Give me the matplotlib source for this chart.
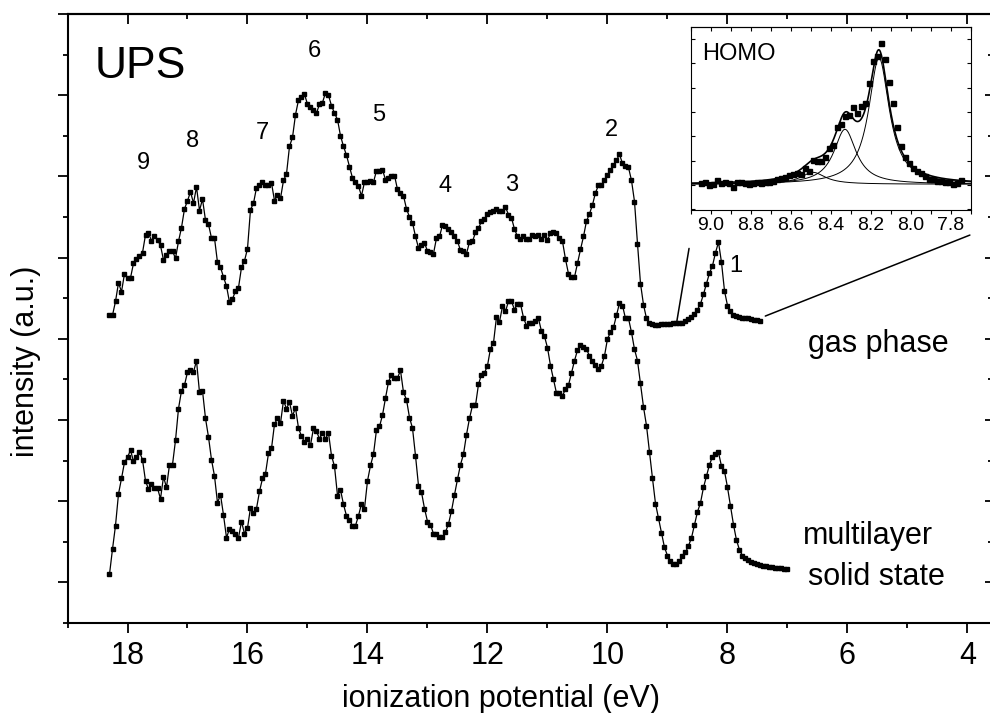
import numpy as np
import matplotlib.pyplot as plt
from matplotlib.patches import ConnectionPatch
from matplotlib.ticker import MultipleLocator

plt.rcParams['font.family'] = ['Liberation Sans', 'DejaVu Sans']

##Spectra (intensity in a.u., energy grid of the measurement)##
step = 0.05
gas_start = 18.30
solid_start = 18.30

gas = [3.29, 3.29, 3.46, 3.69, 3.58, 3.80, 3.75, 3.75, 3.93, 3.98,
       4.02, 4.06, 4.28, 4.30, 4.21, 4.26, 4.22, 4.15, 3.97, 4.03,
       4.08, 4.08, 3.99, 4.20, 4.37, 4.60, 4.70, 4.81, 4.67, 4.87,
       4.58, 4.72, 4.46, 4.41, 4.24, 4.24, 3.94, 3.88, 3.76, 3.65,
       3.45, 3.49, 3.59, 3.63, 3.88, 3.96, 4.11, 4.59, 4.67, 4.86,
       4.89, 4.93, 4.89, 4.90, 4.92, 4.70, 4.77, 4.73, 4.95, 5.03,
       5.37, 5.48, 5.76,
       5.94, 5.98, 6.01, 5.89, 5.86, 5.82, 5.78, 5.89, 5.91, 6.03,
       6.00, 5.87, 5.78, 5.70, 5.50, 5.37, 5.26, 5.12, 4.98, 4.93,
       4.88, 4.76, 4.93, 4.93, 4.94, 4.93, 5.07, 5.07, 5.08, 4.96,
       4.98, 5.00, 5.01, 4.84, 4.80, 4.76, 4.60, 4.50, 4.43, 4.26,
       4.12, 4.16, 4.18, 4.08, 4.07, 4.05, 4.24, 4.26, 4.40, 4.39,
       4.35, 4.31, 4.26, 4.20, 4.09, 4.08, 4.05, 4.19, 4.20, 4.31,
       4.36, 4.45, 4.48, 4.54,
       4.56, 4.57, 4.60, 4.58, 4.57, 4.62, 4.53, 4.49, 4.35, 4.26,
       4.23, 4.26, 4.23, 4.23, 4.28, 4.26, 4.28, 4.23, 4.28, 4.22,
       4.30, 4.32, 4.30, 4.24, 4.20, 3.98, 3.80, 3.76, 3.76, 3.93,
       4.10, 4.26, 4.45, 4.54, 4.65, 4.80, 4.89, 4.90, 4.96, 5.02,
       5.08, 5.14, 5.20, 5.27, 5.16, 5.13, 5.11, 4.95, 4.69, 4.17,
       3.68, 3.42, 3.25, 3.20, 3.18, 3.17, 3.17, 3.18, 3.18, 3.18,
       3.18, 3.19, 3.19, 3.19, 3.20, 3.22, 3.24, 3.27, 3.31, 3.36,
       3.43, 3.55, 3.68, 3.81, 3.90, 4.06, 4.19, 3.94, 3.59, 3.41,
       3.34, 3.29, 3.28, 3.27, 3.26, 3.25, 3.25, 3.24, 3.23, 3.23,
       3.22]

solid = [0.10, 0.41, 0.70, 1.09, 1.28, 1.48, 1.54, 1.63, 1.49, 1.54,
         1.61, 1.51, 1.25, 1.15, 1.21, 1.16, 1.16, 1.03, 1.30, 1.17,
         1.45, 1.45, 1.75, 2.14, 2.36, 2.43, 2.59, 2.62, 2.59, 2.73,
         2.34, 2.36, 2.02, 1.79, 1.51, 1.31, 0.98, 1.08, 0.83, 0.55,
         0.66, 0.63, 0.60, 0.55, 0.75, 0.60, 0.67, 0.92, 0.86, 0.91,
         1.12, 1.28, 1.34, 1.59, 1.65, 1.95, 2.02, 1.96, 2.24, 2.14,
         2.22, 2.05,
         2.15, 1.90, 1.80, 1.73, 1.76, 1.69, 1.90, 1.86, 1.77, 1.84,
         1.77, 1.84, 1.56, 1.43, 1.07, 1.14, 0.96, 0.82, 0.77, 0.70,
         0.70, 0.82, 0.97, 0.91, 1.25, 1.44, 1.58, 1.88, 1.92, 2.06,
         2.27, 2.47, 2.56, 2.52, 2.52, 2.61, 2.34, 2.25, 2.03, 1.90,
         1.56, 1.19, 1.11, 0.91, 0.75, 0.71, 0.60, 0.59, 0.56, 0.56,
         0.62, 0.72, 0.88, 1.08, 1.27, 1.45, 1.58, 1.82, 2.02, 2.18,
         2.18, 2.44, 2.56, 2.58, 2.67,
         2.88, 2.95, 3.27, 3.21, 3.40, 3.34, 3.46, 3.46, 3.36, 3.43,
         3.43, 3.26, 3.16, 3.19, 3.19, 3.22, 3.25, 3.09, 3.03, 2.89,
         2.67, 2.50, 2.33, 2.33, 2.30, 2.38, 2.43, 2.58, 2.73, 2.86,
         2.92, 2.90, 2.87, 2.79, 2.73, 2.68, 2.63, 2.67, 2.79, 3.00,
         3.08, 3.14, 3.29, 3.44, 3.41, 3.25, 3.25, 3.08, 2.87, 2.73,
         2.45, 2.16, 1.93, 1.60, 1.28, 0.97, 0.79, 0.61, 0.43, 0.33,
         0.26, 0.23, 0.23, 0.26, 0.32, 0.37, 0.45, 0.55, 0.71, 0.87,
         0.98, 1.17, 1.31, 1.45, 1.55, 1.58, 1.60, 1.43, 1.37, 1.17,
         0.94, 0.71, 0.52, 0.40, 0.33, 0.30, 0.27, 0.25, 0.24, 0.23,
         0.21, 0.20, 0.20, 0.19, 0.19, 0.18, 0.18, 0.18, 0.17, 0.17]

##HOMO inset (gas phase, fine scan) and fitted peaks##
homo_start = 9.05
homo_step = 0.02
homo = [0.10, 0.12, -0.01, 0.04, 0.21, 0.10, 0.14, 0.10, -0.10, 0.11,
        0.12, 0.10, 0.03, 0.08, 0.12, 0.08, 0.14, 0.12, 0.16, 0.25,
        0.27, 0.34, 0.41, 0.45, 0.48, 0.45, 0.71, 0.59, 1.03, 1.00,
        1.00, 1.17, 1.51, 1.65, 2.40, 2.51, 2.84, 2.88, 3.20, 2.95,
        3.25, 3.36, 4.21, 5.12, 5.31, 5.86, 5.20, 4.25, 3.36, 2.40,
        1.62, 1.14, 0.89, 0.69, 0.59, 0.48, 0.38, 0.25, 0.23, 0.18,
        0.16, 0.14, 0.12, 0.03, 0.10, 0.19]
fit_center = [8.16, 8.33, 8.49]
fit_height = [5.2, 2.26, 0.49]
fit_fwhm = [0.125, 0.135, 0.15]
fit_base = 0.03

##Peak numbering##
peak_names = ['1', '2', '3', '4', '5', '6', '7', '8', '9']
peak_ev = [7.86, 9.93, 11.59, 12.71, 13.81, 14.89, 15.76, 16.91, 17.73]
peak_int = [3.90, 5.57, 4.90, 4.88, 5.76, 6.54, 5.54, 5.43, 5.17]

e_gas = gas_start - step * np.arange(len(gas))
e_solid = solid_start - step * np.arange(len(solid))
e_homo = homo_start - homo_step * np.arange(len(homo))

##Main plot##
fig = plt.figure(figsize=(9.9, 7.13), dpi=100)
ax = fig.add_axes([67.5/990, 90/713, 924/990, 609/713])
ax.plot(e_gas, gas, '-s', color='black', lw=0.9, ms=3.2)
ax.plot(e_solid, solid, '-s', color='black', lw=0.9, ms=3.2)
ax.set_xlim(19.0, 3.6)
ax.set_ylim(-0.5, 7.0)

ax.xaxis.set_major_locator(MultipleLocator(2))
ax.xaxis.set_minor_locator(MultipleLocator(1))
ax.yaxis.set_major_locator(MultipleLocator(1))
ax.yaxis.set_minor_locator(MultipleLocator(0.5))
ax.tick_params(which='both', direction='out', width=1.3, labelsize=22,
               top=False, right=False, pad=6)
ax.tick_params(which='major', length=7)
ax.tick_params(which='minor', length=3.5)
ax.set_yticklabels([])
for s in ax.spines.values():
    s.set_linewidth(1.5)

top = ax.secondary_xaxis('top')
top.xaxis.set_major_locator(MultipleLocator(2))
top.xaxis.set_minor_locator(MultipleLocator(1))
top.tick_params(which='both', direction='in', width=1.3, labeltop=False)
top.tick_params(which='major', length=7)
top.tick_params(which='minor', length=3.5)
top.spines['top'].set_linewidth(1.5)
right = ax.secondary_yaxis('right')
right.yaxis.set_major_locator(MultipleLocator(1))
right.yaxis.set_minor_locator(MultipleLocator(0.5))
right.tick_params(which='both', direction='in', width=1.3, labelright=False)
right.tick_params(which='major', length=5)
right.tick_params(which='minor', length=3)

ax.set_xlabel('ionization potential (eV)', fontsize=22)
ax.xaxis.set_label_coords(0.469, -0.100)
ax.set_ylabel('intensity (a.u.)', fontsize=22)
ax.yaxis.set_label_coords(-0.029, 0.43)

ax.text(18.54, 6.35, 'UPS', fontsize=32, ha='left', va='center')
for name, e, v in zip(peak_names, peak_ev, peak_int):
    ax.text(e, v, name, fontsize=17, ha='center', va='center')
ax.text(6.66, 2.93, 'gas phase', fontsize=22, ha='left', va='center')
ax.text(6.74, 0.57, 'multilayer', fontsize=22, ha='left', va='center')
ax.text(6.66, 0.07, 'solid state', fontsize=22, ha='left', va='center')

##Inset##
ins = fig.add_axes([691/990, 503/713, 280/990, 183/713])
ins.plot(e_homo, homo, 's', color='black', ms=3.6)
xf = np.linspace(9.1, 7.7, 600)
total = np.full_like(xf, fit_base)
for c, h, w in zip(fit_center, fit_height, fit_fwhm):
    comp = h / (1 + ((xf - c) / (w / 2))**2)
    total += comp
    ins.plot(xf, comp + fit_base, color='black', lw=0.7)
ins.plot(xf, total, color='black', lw=1.2)
ins.set_xlim(9.1, 7.7)
ins.set_ylim(-1.03, 6.5)
ins.xaxis.set_major_locator(MultipleLocator(0.2))
ins.xaxis.set_minor_locator(MultipleLocator(0.1))
ins.yaxis.set_major_locator(MultipleLocator(1))
ins.tick_params(axis='x', which='both', direction='out', length=3, width=0.8,
                labelsize=14, pad=2)
ins.tick_params(axis='y', which='both', direction='in', length=3, width=0.8,
                left=True, right=True, labelleft=False)
ins.xaxis.set_major_formatter('{x:.1f}')
ins_top = ins.secondary_xaxis('top')
ins_top.xaxis.set_major_locator(MultipleLocator(0.1))
ins_top.tick_params(direction='in', length=3, width=0.8, labeltop=False)
for s in ins.spines.values():
    s.set_linewidth(0.8)
ins.text(0.04, 0.85, 'HOMO', transform=ins.transAxes, fontsize=17,
         ha='left', va='center')

##Lines from the HOMO band to the inset##
con1 = ConnectionPatch(xyA=(e_gas[189], gas[189]), coordsA=ax.transData,
                       xyB=(-0.007, -0.21), coordsB=ins.transAxes,
                       color='black', lw=1.1)
con2 = ConnectionPatch(xyA=(e_gas[-1] - 0.08, gas[-1] + 0.06), coordsA=ax.transData,
                       xyB=(0.996, -0.137), coordsB=ins.transAxes,
                       color='black', lw=1.1)
fig.add_artist(con1)
fig.add_artist(con2)

fig.savefig('out.png', dpi=100)
